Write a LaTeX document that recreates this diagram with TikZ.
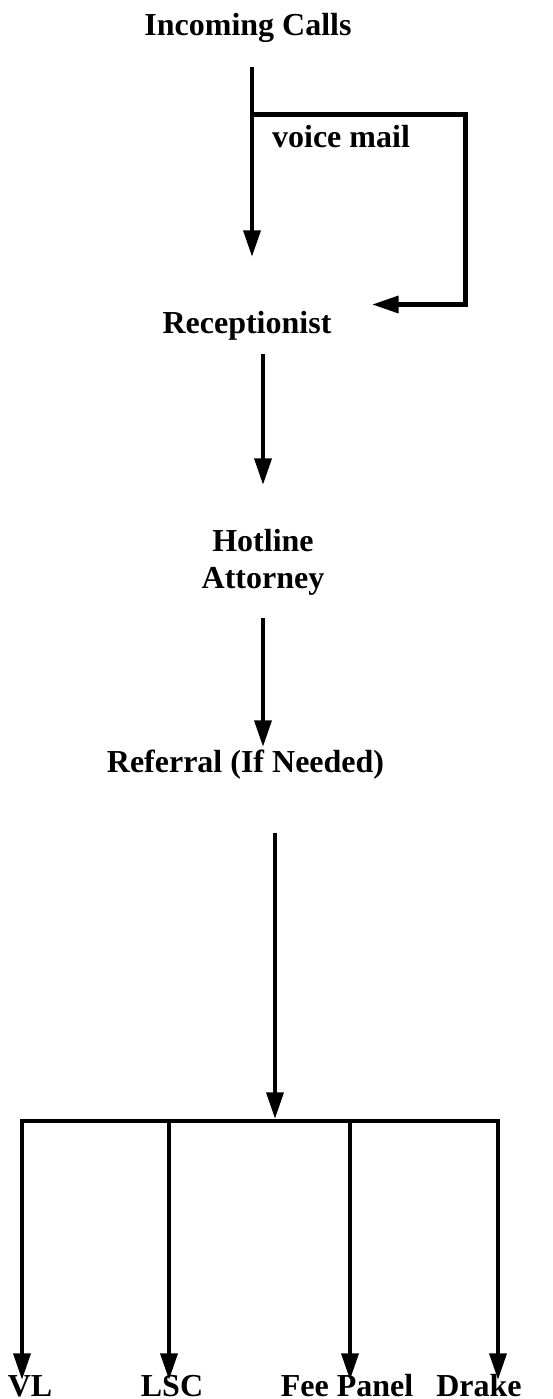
\documentclass[tikz,border=0pt]{standalone}
\usepackage{fontspec}
\setmainfont{Liberation Serif}
\usetikzlibrary{arrows.meta}
\begin{document}
\begin{tikzpicture}[x=0.75pt,y=-0.75pt,
  lbl/.style={font=\bfseries\fontsize{24}{28.5}\selectfont, inner sep=0pt, anchor=base, align=center},
  conn/.style={line width=3.4pt},
  arr/.style={conn, -{Triangle[length=20pt,width=12.5pt]}}]
\useasboundingbox (0,0) rectangle (553,1399);
% labels
\node[lbl] (inc) at (248,35) {Incoming Calls};
\node[lbl] (vm) at (341,147) {voice mail};
\node[lbl] (rec) at (247,333) {Receptionist};
\node[lbl] (hot) at (263,551) {Hotline};
\node[lbl] (att) at (263,588) {Attorney};
\node[lbl] (ref) at (245.5,772) {Referral (If Needed)};
\node[lbl] (vl) at (30,1396) {VL};
\node[lbl] (lsc) at (172,1396) {LSC};
\node[lbl] (fee) at (347,1396) {Fee Panel};
\node[lbl] (drk) at (479,1396) {Drake};
% coordinates
\coordinate (a1s) at (252,67);
\coordinate (a1e) at (252,257);
\coordinate (vmb) at (252,114.5);
\coordinate (vmc) at (465.5,304.5);
\coordinate (vme) at (372,304.5);
\coordinate (a2s) at (263,354);
\coordinate (a2e) at (263,485);
\coordinate (a3s) at (263,618);
\coordinate (a3e) at (263,747);
\coordinate (a4s) at (275,833);
\coordinate (a4e) at (275,1119);
\coordinate (busl) at (22,1121);
\coordinate (busr) at (498,1121);
\coordinate (b1) at (22,1121);
\coordinate (b2) at (169,1121);
\coordinate (b3) at (350,1121);
\coordinate (b4) at (498,1121);
\coordinate (t1) at (22,1380);
\coordinate (t2) at (169,1380);
\coordinate (t3) at (350,1380);
\coordinate (t4) at (498,1380);
% connectors
\draw[arr] (a1s) -- (a1e);
\draw[arr] (vmb) -| (vmc) -- (vme);
\draw[arr] (a2s) -- (a2e);
\draw[arr] (a3s) -- (a3e);
\draw[arr] (a4s) -- (a4e);
\draw[conn, line cap=rect] (busl) -- (busr);
\draw[arr] (b1) -- (t1);
\draw[arr] (b2) -- (t2);
\draw[arr] (b3) -- (t3);
\draw[arr] (b4) -- (t4);
\end{tikzpicture}
\end{document}
